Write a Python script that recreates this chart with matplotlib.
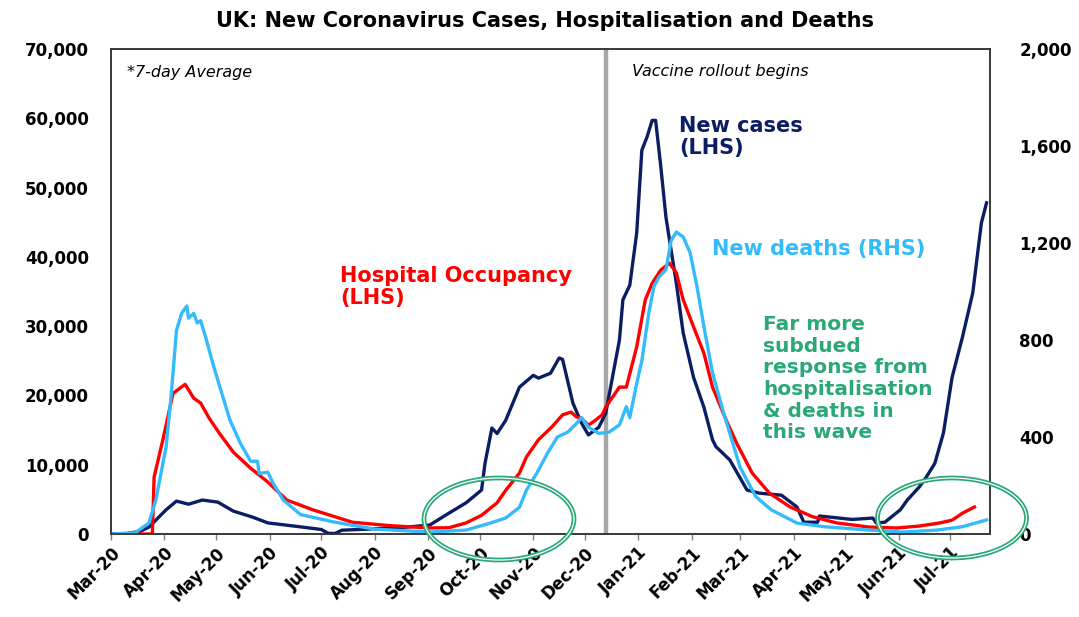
import numpy as np
import pandas as pd
import matplotlib
matplotlib.use('Agg')
import matplotlib.pyplot as plt
import matplotlib.dates as mdates
from matplotlib.patches import Ellipse
from matplotlib.ticker import FuncFormatter, MultipleLocator

# 7-day averages
cases_dates = ['2020-03-01', '2020-03-10', '2020-03-18', '2020-03-23', '2020-03-27', '2020-04-02',
               '2020-04-08', '2020-04-15', '2020-04-23', '2020-05-02', '2020-05-11', '2020-05-22',
               '2020-05-31', '2020-06-10', '2020-06-20', '2020-07-01', '2020-07-05', '2020-07-09',
               '2020-07-13', '2020-08-01', '2020-08-20', '2020-09-02', '2020-09-13', '2020-09-23',
               '2020-10-02', '2020-10-04', '2020-10-08', '2020-10-11', '2020-10-16', '2020-10-24',
               '2020-11-01', '2020-11-04', '2020-11-11', '2020-11-16', '2020-11-18', '2020-11-24',
               '2020-11-29', '2020-12-03', '2020-12-09', '2020-12-13', '2020-12-21', '2020-12-23',
               '2020-12-27', '2020-12-31', '2021-01-03', '2021-01-06', '2021-01-09', '2021-01-11',
               '2021-01-14', '2021-01-17', '2021-01-23', '2021-01-27', '2021-02-02', '2021-02-08',
               '2021-02-13', '2021-02-15', '2021-02-23', '2021-03-05', '2021-03-12', '2021-03-25',
               '2021-04-03', '2021-04-07', '2021-04-15', '2021-04-16', '2021-05-05', '2021-05-17',
               '2021-05-19', '2021-05-24', '2021-06-02', '2021-06-06', '2021-06-13', '2021-06-17',
               '2021-06-22', '2021-06-27', '2021-07-02', '2021-07-05', '2021-07-08', '2021-07-14',
               '2021-07-19', '2021-07-22']
cases = [30, 50, 400, 1000, 2000, 3500,
         4750, 4300, 4900, 4600, 3300, 2450,
         1600, 1300, 1000, 650, 100, 80,
         550, 750, 1000, 1300, 3000, 4500,
         6350, 10200, 15300, 14500, 16400, 21200,
         22900, 22500, 23200, 25400, 25200, 18900,
         16000, 14300, 15400, 17400, 28000, 33800,
         35900, 43400, 55400, 57300, 59700, 59700,
         53000, 45700, 36200, 29000, 22600, 18300,
         13600, 12600, 10700, 6350, 5900, 5600,
         3900, 1700, 1700, 2600, 2100, 2300,
         1600, 1700, 3500, 4900, 6800, 8200,
         10200, 14600, 22600, 25500, 28400, 34800,
         44900, 47800]

hosp_dates = ['2020-03-01', '2020-03-25', '2020-03-26', '2020-03-31', '2020-04-06', '2020-04-13',
              '2020-04-18', '2020-04-22', '2020-04-27', '2020-05-03', '2020-05-11', '2020-05-21',
              '2020-05-31', '2020-06-11', '2020-06-26', '2020-07-19', '2020-08-10', '2020-09-02',
              '2020-09-13', '2020-09-23', '2020-10-02', '2020-10-11', '2020-10-16', '2020-10-24',
              '2020-10-28', '2020-11-04', '2020-11-12', '2020-11-18', '2020-11-23', '2020-11-26',
              '2020-11-29', '2020-12-03', '2020-12-07', '2020-12-11', '2020-12-13', '2020-12-21',
              '2020-12-25', '2020-12-31', '2021-01-05', '2021-01-09', '2021-01-14', '2021-01-19',
              '2021-01-23', '2021-01-27', '2021-02-02', '2021-02-08', '2021-02-13', '2021-02-21',
              '2021-02-27', '2021-03-08', '2021-03-18', '2021-03-30', '2021-04-12', '2021-04-26',
              '2021-05-15', '2021-05-31', '2021-06-13', '2021-06-25', '2021-07-02', '2021-07-08',
              '2021-07-15']
hosp = [0, 0, 8200, 13500, 20300, 21600,
        19600, 18900, 16700, 14500, 11800, 9500,
        7500, 4900, 3500, 1700, 1200, 870,
        900, 1600, 2700, 4500, 6300, 8800,
        11100, 13600, 15500, 17200, 17600, 16900,
        16700, 15700, 16400, 17200, 18300, 21200,
        21200, 27000, 33800, 36200, 38100, 39100,
        37700, 33800, 29900, 26100, 21200, 16400,
        13100, 8800, 5900, 3900, 2500, 1600,
        1000, 870, 1150, 1600, 2000, 3000,
        3900]

deaths_dates = ['2020-03-01', '2020-03-15', '2020-03-23', '2020-03-27', '2020-04-02', '2020-04-05',
                '2020-04-08', '2020-04-11', '2020-04-14', '2020-04-15', '2020-04-18', '2020-04-20',
                '2020-04-22', '2020-04-25', '2020-04-29', '2020-05-03', '2020-05-09', '2020-05-15',
                '2020-05-21', '2020-05-25', '2020-05-26', '2020-05-31', '2020-06-03', '2020-06-09',
                '2020-06-19', '2020-07-08', '2020-08-01', '2020-09-02', '2020-09-23', '2020-10-07',
                '2020-10-16', '2020-10-24', '2020-10-28', '2020-11-03', '2020-11-09', '2020-11-15',
                '2020-11-21', '2020-11-26', '2020-11-29', '2020-12-03', '2020-12-09', '2020-12-15',
                '2020-12-21', '2020-12-25', '2020-12-27', '2020-12-31', '2021-01-03', '2021-01-07',
                '2021-01-10', '2021-01-13', '2021-01-17', '2021-01-20', '2021-01-23', '2021-01-27',
                '2021-01-31', '2021-02-04', '2021-02-08', '2021-02-13', '2021-02-19', '2021-03-01',
                '2021-03-10', '2021-03-19', '2021-04-03', '2021-04-19', '2021-05-15', '2021-06-03',
                '2021-06-23', '2021-07-08', '2021-07-22']
deaths = [0, 5, 45, 140, 360, 580,
          840, 910, 940, 890, 910, 870,
          880, 810, 705, 610, 470, 375,
          300, 300, 250, 255, 210, 140,
          80, 50, 20, 8, 16, 45,
          66, 110, 180, 250, 330, 400,
          420, 455, 480, 440, 415, 420,
          450, 525, 480, 620, 715, 910,
          1020, 1060, 1090, 1210, 1245, 1225,
          1160, 1020, 855, 665, 510, 275,
          155, 100, 45, 30, 16, 8,
          16, 30, 58]

vaccine_date = '2020-12-13'
x_start, x_end = '2020-03-01', '2021-07-24'

NAVY = '#0b1d63'
RED = '#ff0000'
LBLUE = '#33bbfb'
GREEN = '#2aa876'
W, H = 1079, 617


def px(x, y):
    # pixel position (from top-left) -> figure fraction
    return x / W, 1 - y / H


plt.rcParams['font.family'] = ['DejaVu Sans']

fig = plt.figure(figsize=(W / 100, H / 100), dpi=100)
ax = fig.add_axes([111 / W, 83 / H, 879 / W, 485 / H])

ax.plot(pd.to_datetime(cases_dates), cases, color=NAVY, lw=2.4, solid_joinstyle='round')
ax.plot(pd.to_datetime(hosp_dates), hosp, color=RED, lw=2.4, solid_joinstyle='round')
ax.axvline(pd.Timestamp(vaccine_date), color='#a6a6a6', lw=3.2, zorder=0)

ax2 = ax.twinx()
ax2.plot(pd.to_datetime(deaths_dates), deaths, color=LBLUE, lw=2.4, solid_joinstyle='round')

ax.set_xlim(pd.Timestamp(x_start), pd.Timestamp(x_end))
ax.set_ylim(0, 70000)
ax2.set_ylim(0, 2000)

ax.yaxis.set_major_locator(MultipleLocator(10000))
ax2.yaxis.set_major_locator(MultipleLocator(400))
comma = FuncFormatter(lambda v, p: f'{int(v):,}')
ax.yaxis.set_major_formatter(comma)
ax2.yaxis.set_major_formatter(comma)

ax.xaxis.set_major_locator(mdates.MonthLocator())
ax.xaxis.set_major_formatter(mdates.DateFormatter('%b-%y'))

ax.tick_params(axis='y', length=0, pad=16, labelsize=12)
ax2.tick_params(axis='y', length=0, pad=21, labelsize=12)
ax.tick_params(axis='x', length=4, width=1, color='#808080', direction='out', pad=3, labelsize=12)
for lab in ax.get_xticklabels():
    lab.set_rotation(45)
    lab.set_ha('right')
    lab.set_rotation_mode('anchor')
for lab in ax.get_xticklabels() + ax.get_yticklabels() + ax2.get_yticklabels():
    lab.set_fontweight('bold')

for a in (ax, ax2):
    for s in a.spines.values():
        s.set_color('#333333')
        s.set_linewidth(1.1)

# titles and notes
fig.text(*px(545, 27), 'UK: New Coronavirus Cases, Hospitalisation and Deaths',
         ha='center', va='baseline', fontsize=15, fontweight='bold')
fig.text(*px(127, 77), '*7-day Average', ha='left', va='baseline', fontsize=11.5, style='italic')
fig.text(*px(632, 76), 'Vaccine rollout begins', ha='left', va='baseline', fontsize=11.5, style='italic')

fig.text(*px(679, 132), 'New cases', ha='left', va='baseline', fontsize=15,
         fontweight='bold', color=NAVY)
fig.text(*px(679, 154), '(LHS)', ha='left', va='baseline', fontsize=15,
         fontweight='bold', color=NAVY)
fig.text(*px(712, 255), 'New deaths (RHS)', ha='left', va='baseline', fontsize=15,
         fontweight='bold', color=LBLUE)
fig.text(*px(340, 282), 'Hospital Occupancy', ha='left', va='baseline', fontsize=15,
         fontweight='bold', color=RED)
fig.text(*px(340, 304), '(LHS)', ha='left', va='baseline', fontsize=15,
         fontweight='bold', color=RED)

green_lines = ['Far more', 'subdued', 'response from', 'hospitalisation', '& deaths in', 'this wave']
for i, line in enumerate(green_lines):
    fig.text(*px(763, 330 + i * 21.7), line, ha='left', va='baseline', fontsize=14.5,
             fontweight='bold', color=GREEN)

# double-line green ellipses
for cx, cy, ew, eh in [(499, 519, 150, 82), (952, 518, 149, 80)]:
    for lw, col in [(3.4, GREEN), (0.9, 'white')]:
        e = Ellipse(px(cx, cy), ew / W, eh / H, transform=fig.transFigure,
                    fill=False, edgecolor=col, lw=lw, zorder=10, clip_on=False)
        fig.add_artist(e)

fig.savefig('out.png', dpi=100)
